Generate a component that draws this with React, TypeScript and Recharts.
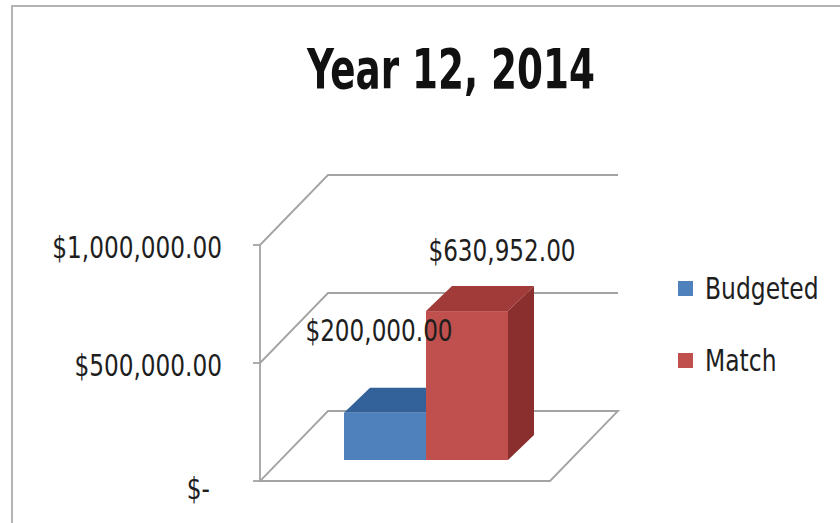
import { Bar, BarChart, CartesianGrid, LabelList, Legend, XAxis, YAxis } from "recharts";

const CATEGORIES = ["Year 12, 2014"];
const BUDGETED = [200000];
const MATCH = [630952];
const Y_TICKS = [0, 500000, 1000000];

const data = CATEGORIES.map((name, i) => ({ name, Budgeted: BUDGETED[i], Match: MATCH[i] }));

const W = 840;
const H = 523;
const MARGIN = { top: 245, right: 290, bottom: 42, left: 0 };
const FONT = "'Liberation Sans Narrow', 'Arial Narrow', 'DejaVu Sans Condensed', sans-serif";
const GRID = "#a3a3a3";
const TEXT = "#1e1e1e";

// depth of the back wall and of a bar, and how far bars sit back from the front edge
const WALL_DX = 68;
const WALL_DY = 70;
const BAR_DX = 26;
const BAR_DY = 25;
const LIFT = 21;

const BLUE = { front: "#4f81bd", top: "#33629b", side: "#2e5888" };
const RED = { front: "#c0504d", top: "#a13b39", side: "#8a2f2d" };

function money(v: number): string {
  if (v === 0) return "$-";
  return "$" + v.toLocaleString("en-US", { minimumFractionDigits: 2, maximumFractionDigits: 2 });
}

function Box3D(props: any) {
  const { x, y, width, height, colors } = props;
  if (!height) return null;
  const fx = x + LIFT;
  const fy = y - LIFT;
  const b = fy + height;
  return (
    <g>
      <path d={`M${fx + width},${fy} L${fx + width + BAR_DX},${fy - BAR_DY} L${fx + width + BAR_DX},${b - BAR_DY} L${fx + width},${b} Z`} fill={colors.side} />
      <path d={`M${fx},${fy} L${fx + BAR_DX},${fy - BAR_DY} L${fx + width + BAR_DX},${fy - BAR_DY} L${fx + width},${fy} Z`} fill={colors.top} />
      <rect x={fx} y={fy} width={width} height={height} fill={colors.front} />
    </g>
  );
}

function WallLine(props: any) {
  const { x1, y1, x2 } = props;
  const floor = Math.abs(y1 - (H - MARGIN.bottom)) < 1;
  const d = floor
    ? `M${x1},${y1} L${x2},${y1} L${x2 + WALL_DX},${y1 - WALL_DY} L${x1 + WALL_DX},${y1 - WALL_DY} Z`
    : `M${x1},${y1} L${x1 + WALL_DX},${y1 - WALL_DY} L${x2 + WALL_DX},${y1 - WALL_DY}`;
  return <path key={props.key} d={d} fill="none" stroke={GRID} strokeWidth={1.8} />;
}

function YTick(props: any) {
  const { x, y, payload } = props;
  const zero = payload.value === 0;
  return (
    <text
      transform={`translate(${zero ? x - 12 : x},${y + (zero ? 18 : 13)}) scale(0.86,1)`}
      textAnchor="end"
      fontSize={30}
      fontFamily={FONT}
      fill={TEXT}
    >
      {money(payload.value)}
    </text>
  );
}

function valueLabel(dx: number, dy: number) {
  return (props: any) => {
    const { x, y, width, value } = props;
    return (
      <text
        transform={`translate(${x + width / 2 + dx},${y + dy}) scale(0.83,1)`}
        textAnchor="middle"
        fontSize={31}
        fontFamily={FONT}
        fill={TEXT}
      >
        {money(value)}
      </text>
    );
  };
}

function LegendBox(props: any) {
  const { payload } = props;
  return (
    <div style={{ fontFamily: FONT, fontSize: 31, color: TEXT }}>
      {(payload || []).map((item: any) => (
        <div key={item.value} style={{ display: "flex", alignItems: "center", height: 72 }}>
          <span style={{ width: 15, height: 15, background: item.color, marginRight: 12, flex: "none" }} />
          <span style={{ display: "inline-block", transform: "scale(0.84,1)", transformOrigin: "left center" }}>{item.value}</span>
        </div>
      ))}
    </div>
  );
}

export default function App() {
  return (
    <div style={{ position: "absolute", left: 0, top: 0, width: W, height: H, background: "#fff", overflow: "hidden" }}>
      <div style={{ position: "absolute", left: 11, top: 5, width: W, height: H, border: "2px solid #b4b4b4" }} />
      <div
        style={{
          position: "absolute",
          left: 31,
          width: W,
          top: 41,
          textAlign: "center",
          fontFamily: FONT,
          fontWeight: "bold",
          fontSize: 56,
          lineHeight: "56px",
          color: "#111",
          transform: "scale(0.74,1)",
          transformOrigin: "center",
        }}
      >
        Year 12, 2014
      </div>
      <div style={{ position: "absolute", left: 0, top: 0 }}>
        <BarChart width={W} height={H} data={data} margin={MARGIN} barGap={0} barSize={82}>
          <CartesianGrid vertical={false} horizontal={WallLine} />
          <XAxis dataKey="name" hide />
          <YAxis
            domain={[0, 1000000]}
            ticks={Y_TICKS}
            width={260}
            tickSize={7}
            tickMargin={31}
            axisLine={{ stroke: GRID, strokeWidth: 1.8 }}
            tickLine={{ stroke: GRID, strokeWidth: 1.8 }}
            tick={YTick}
          />
          <Legend
            layout="vertical"
            align="center"
            verticalAlign="middle"
            content={LegendBox}
            wrapperStyle={{ left: 678, top: 252, width: 160 }}
          />
          <Bar dataKey="Budgeted" fill={BLUE.front} isAnimationActive={false} shape={(p: any) => <Box3D {...p} colors={BLUE} />}>
            <LabelList dataKey="Budgeted" content={valueLabel(15, -93)} />
          </Bar>
          <Bar dataKey="Match" fill={RED.front} isAnimationActive={false} shape={(p: any) => <Box3D {...p} colors={RED} />}>
            <LabelList dataKey="Match" content={valueLabel(56, -71)} />
          </Bar>
        </BarChart>
      </div>
    </div>
  );
}
